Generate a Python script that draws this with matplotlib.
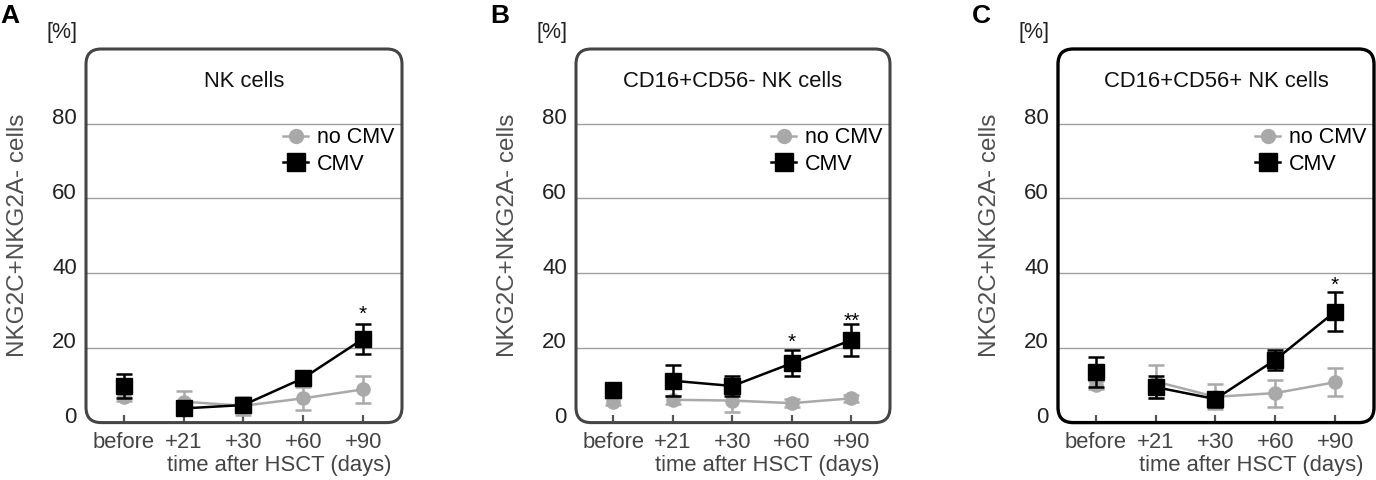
import matplotlib
matplotlib.use("Agg")
import matplotlib.pyplot as plt
from matplotlib.patches import FancyBboxPatch
from matplotlib.lines import Line2D
import matplotlib.transforms as mtransforms

plt.rcParams['font.family'] = ['Liberation Sans', 'DejaVu Sans']

# ---------------- data ----------------
timepoints = ["before", "+21", "+30", "+60", "+90"]
panel_letters = ["A", "B", "C"]
panel_titles = ["NK cells", "CD16+CD56- NK cells", "CD16+CD56+ NK cells"]

no_cmv_A = [6.9, 5.6, 4.5, 6.5, 8.9]
no_cmv_A_err = [1.0, 2.9, 2.4, 3.1, 3.6]
cmv_A = [9.8, 3.8, 4.7, 11.9, 22.4]
cmv_A_err = [3.3, 1.5, 1.5, 1.5, 4.1]

no_cmv_B = [5.6, 6.1, 5.9, 5.2, 6.5]
no_cmv_B_err = [1.0, 1.0, 3.0, 1.0, 1.0]
cmv_B = [8.7, 11.2, 9.8, 15.9, 22.1]
cmv_B_err = [1.0, 4.1, 2.6, 3.4, 4.2]

no_cmv_C = [10.1, 11.0, 6.9, 7.9, 10.8]
no_cmv_C_err = [1.0, 4.3, 3.3, 3.6, 3.8]
cmv_C = [13.6, 9.5, 6.3, 16.8, 29.7]
cmv_C_err = [4.0, 3.0, 2.0, 2.7, 5.2]

# significance marks: (time index, y value of the mark, label)
stars_A = [(4, 30.7, "*")]
stars_B = [(3, 23.2, "*"), (4, 28.7, "**")]
stars_C = [(4, 38.4, "*")]

yticks = [0, 20, 40, 60, 80]

panels = [
    (no_cmv_A, no_cmv_A_err, cmv_A, cmv_A_err, stars_A),
    (no_cmv_B, no_cmv_B_err, cmv_B, cmv_B_err, stars_B),
    (no_cmv_C, no_cmv_C_err, cmv_C, cmv_C_err, stars_C),
]

# ---------------- layout ----------------
W, H = 1376, 480
fig = plt.figure(figsize=(W / 100, H / 100), dpi=100)

ax_lefts = [86, 576, 1058]
ax_widths = [316, 314, 316]
ax_bottom_px = 422.6
ax_top_px = 49
box_colors = ["#454545", "#454545", "#000000"]
box_lws = [2.2, 2.2, 2.4]

GRAY = "#a9a9a9"
xs = list(range(len(timepoints)))


def draw_series(ax, ys, errs, color, marker, ms, z):
    kw = dict(color=color, ecolor=color, lw=1.8, elinewidth=1.8, capsize=5.5,
              capthick=1.8, marker=marker, ms=ms, mec=color, mfc=color,
              zorder=z, clip_on=False)
    # baseline point ("before") is not joined to the post-transplant course
    ax.errorbar(xs[:1], ys[:1], yerr=errs[:1], linestyle="none", **kw)
    ax.errorbar(xs[1:], ys[1:], yerr=errs[1:], **kw)


for i, (nc, nce, c, ce, stars) in enumerate(panels):
    l = ax_lefts[i] / W
    b = (H - ax_bottom_px) / H
    w = ax_widths[i] / W
    h = (ax_bottom_px - ax_top_px) / H
    ax = fig.add_axes([l, b, w, h])
    ax.set_xlim(-0.63, 4.65)
    ax.set_ylim(0, 100)
    for s in ax.spines.values():
        s.set_visible(False)
    ax.set_facecolor("none")

    for yv in yticks[1:]:
        ax.axhline(yv, color="#a0a0a0", lw=1.0, zorder=0)

    aspect = ax_widths[i] / (ax_bottom_px - ax_top_px)
    box = FancyBboxPatch((0, 0), 1, 1, boxstyle="round,pad=0,rounding_size=0.048",
                         mutation_aspect=aspect, transform=ax.transAxes,
                         facecolor="none", edgecolor=box_colors[i], lw=box_lws[i],
                         clip_on=False, zorder=5)
    ax.add_patch(box)

    draw_series(ax, nc, nce, GRAY, "o", 9.5, 2)
    draw_series(ax, c, ce, "black", "s", 11.5, 3)

    for (xi, yv, lab) in stars:
        ax.annotate(lab, (xs[xi], yv), xytext=(0, -8.6), textcoords="offset points",
                    ha="center", va="baseline", fontsize=15, color="black")

    ax.set_xticks(xs)
    ax.set_xticklabels(timepoints, fontsize=15.8, color="#444444")
    ax.tick_params(axis="x", direction="in", length=6, width=1.6, color="#555555", pad=7)
    ax.set_yticks(yticks)
    ax.set_yticklabels([str(v) for v in yticks], fontsize=16, color="#222222")
    ax.tick_params(axis="y", length=0, pad=6.5)
    off = mtransforms.ScaledTranslation(0, 7.5 / 100, fig.dpi_scale_trans)
    for lab in ax.get_yticklabels():
        lab.set_transform(lab.get_transform() + off)

    ax.set_ylabel("NKG2C+NKG2A- cells", fontsize=17.5, color="#505050", labelpad=0)
    ax.yaxis.set_label_coords(-57 / ax_widths[i], 0.5)

    ax.text(0.5, 0.914, panel_titles[i], transform=ax.transAxes, ha="center",
            va="center", fontsize=15.8, color="#111111")
    ax.text(0.61, -0.116, "time after HSCT (days)", transform=ax.transAxes,
            ha="center", va="center", fontsize=15.8, color="#444444")
    ax.text(-9 / ax_widths[i], 1.0 + 6 / 373.6, "[%]", transform=ax.transAxes,
            ha="right", va="bottom", fontsize=15.5, color="#222222")

    handles = [
        Line2D([], [], color=GRAY, lw=1.8, marker="o", ms=10, mfc=GRAY, mec=GRAY),
        Line2D([], [], color="black", lw=1.8, marker="s", ms=12.5, mfc="black", mec="black"),
    ]
    ax.legend(handles, ["no CMV", "CMV"], loc="upper right",
              bbox_to_anchor=(0.975, 0.79), frameon=False, fontsize=15.5,
              handlelength=1.15, handletextpad=0.4, labelspacing=0.25,
              borderpad=0, borderaxespad=0)

    fig.text([0 / W, 490 / W, 972 / W][i], 1 - 4 / H, panel_letters[i], ha="left",
             va="top", fontsize=19, fontweight="bold", color="black")

fig.savefig("out.png", dpi=100)
